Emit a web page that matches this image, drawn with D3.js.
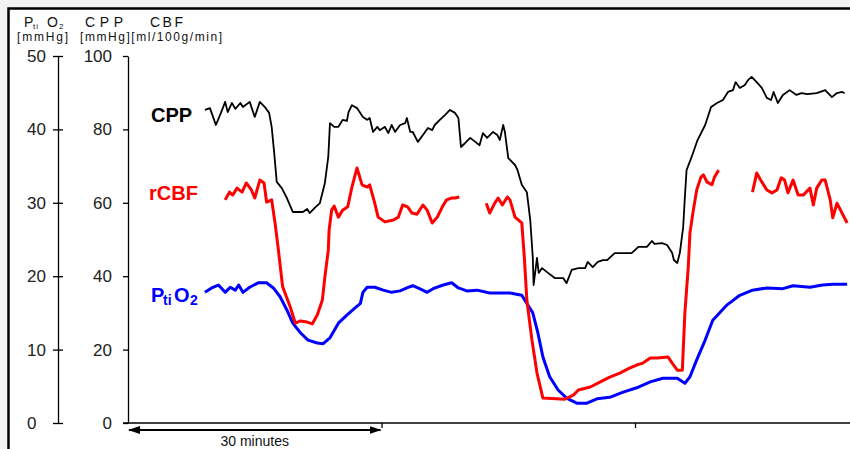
<!DOCTYPE html>
<html><head><meta charset="utf-8">
<script src="https://cdn.jsdelivr.net/npm/d3@7"></script>
<style>
body{margin:0;background:#f3f3f3;}
svg{display:block;font-family:Arial,"Liberation Sans",sans-serif;}
</style>
</head><body>
<svg id="chart" width="850" height="449"></svg>
<script>
// ---------- data (time in minutes) ----------
const cppMinutes = [9.1,9.7,10.4,11.0,11.5,11.8,12.3,12.7,13.3,13.6,14.4,15.0,15.6,16.2,16.7,17.0,17.3,17.6,18.2,18.8,19.5,20.7,21.2,21.5,22.1,22.7,23.3,23.7,23.9,24.4,24.9,25.4,25.9,26.1,26.5,27.1,27.8,28.3,28.6,29.0,29.5,29.8,30.4,30.8,31.2,31.6,32.2,32.8,33.0,33.4,33.7,34.3,34.9,35.5,36.0,36.3,36.9,37.5,38.1,38.7,39.1,39.4,39.9,40.5,41.1,41.6,42.0,42.5,43.2,43.7,44.0,44.4,44.6,45.0,45.8,46.1,46.6,47.2,47.6,47.9,48.0,48.4,48.6,49.0,49.7,50.5,51.5,51.9,52.5,53.3,54.1,54.4,55.0,55.6,56.2,56.7,57.6,59.6,60.4,61.4,62.0,62.3,63.2,63.8,64.4,64.6,65.0,65.3,65.7,65.9,66.1,66.7,67.4,68.3,69.0,69.7,70.4,71.0,71.6,71.9,72.4,73.0,73.4,73.8,74.4,75.0,75.6,76.1,76.4,76.9,77.5,78.3,79.1,79.7,80.4,81.5,82.5,83.3,83.9,84.5,84.8];
const cppValues = [85.3,85.8,81.2,84.5,87.5,84.7,87.2,85.6,87.2,86.1,87.5,83.4,87.5,86.1,84.5,80.7,73.6,65.7,64.0,61.3,57.5,57.5,58.3,57.2,58.6,59.9,65.4,72.5,81.7,80.7,80.7,82.6,82.3,84.7,86.6,85.8,83.4,82.6,83.1,79.3,80.7,79.8,80.7,79.0,81.2,79.3,81.2,81.7,83.1,79.3,79.3,76.6,78.5,80.4,79.8,81.2,82.6,83.9,85.3,84.5,83.1,75.2,76.3,77.7,76.6,75.7,79.0,77.7,79.3,78.5,77.1,81.2,79.3,72.2,70.3,68.9,64.9,62.9,55.3,45.2,37.6,45.0,40.9,42.2,40.9,39.5,39.5,38.1,41.7,42.2,42.2,43.9,42.5,43.9,44.4,44.4,46.3,46.3,48.0,48.0,49.6,48.8,49.0,48.5,46.3,44.4,43.6,46.3,53.4,61.6,68.9,72.5,77.1,81.2,86.1,87.2,88.0,90.2,90.7,92.9,91.3,92.1,93.5,94.3,92.9,91.3,88.6,88.0,90.2,87.2,89.4,90.7,89.4,89.9,89.6,89.9,90.7,88.8,89.9,90.2,89.9];

// rCBF: null marks a gap in the recording
const cbfMinutes = [11.5,12.0,12.4,12.9,13.5,14.0,14.6,15.0,15.6,16.1,16.4,17.0,17.4,17.8,18.3,19.2,19.8,20.4,21.2,21.8,22.4,23.0,23.3,23.7,23.8,24.1,24.4,24.9,25.4,26.0,26.5,27.1,27.7,28.3,28.6,29.2,29.6,30.4,31.4,32.0,32.5,33.1,33.6,34.2,34.9,35.4,36.0,36.6,37.2,37.7,38.3,38.7,39.2,
  40.8,
  42.4,42.8,43.4,43.8,44.3,44.9,45.2,45.8,46.6,46.9,47.2,47.8,48.4,49.1,51.7,52.7,53.3,54.7,55.9,57.0,58.2,59.4,60.2,60.9,61.8,62.6,63.9,64.4,65.0,65.6,65.9,66.3,66.5,66.9,67.3,67.8,68.1,68.5,69.1,69.4,69.9,
  72.0,
  73.9,74.4,75.0,75.6,76.2,76.8,77.3,77.7,78.1,78.7,79.3,79.9,80.7,81.1,81.5,82.1,82.5,83.1,83.4,83.9,84.5,85.1];
const cbfValues = [60.8,62.9,62.1,64.0,62.9,65.4,63.5,61.3,66.2,65.4,60.2,60.8,54.5,47.1,37.1,31.6,27.2,27.8,27.5,27.0,29.4,33.5,39.8,47.1,52.6,58.0,59.1,56.1,58.0,58.9,64.3,69.5,64.9,64.3,64.9,59.9,56.1,54.8,55.3,56.1,59.4,58.9,57.2,56.9,59.4,58.0,54.5,56.1,58.9,60.8,61.3,61.3,61.6,
  null,
  59.9,57.2,59.9,61.3,59.4,61.6,60.8,56.1,54.5,45.2,33.5,22.6,13.6,6.8,6.5,7.6,9.0,9.8,11.2,12.5,13.6,15.0,15.8,16.3,17.7,17.7,18.0,16.3,14.4,14.4,30.0,42.5,51.8,58.0,63.5,67.0,67.6,65.7,64.9,67.0,68.9,
  null,
  62.9,68.1,65.7,63.5,62.7,63.5,66.8,66.2,62.7,66.2,62.1,62.1,64.0,59.4,64.0,66.2,66.2,60.8,55.9,59.9,57.2,54.5];

const ptiMinutes = [9.1,9.9,10.7,11.5,12.1,12.7,13.1,13.6,14.4,15.4,16.4,17.2,18.0,18.8,19.5,20.4,21.3,22.4,23.1,23.9,24.9,25.9,26.6,27.5,27.8,28.3,29.2,30.2,31.2,32.2,33.0,33.7,34.5,35.4,36.1,37.3,38.3,39.1,40.1,41.3,42.8,44.0,45.2,46.6,47.3,47.9,48.5,49.1,49.9,50.9,51.9,53.1,54.3,55.5,57.0,58.6,60.2,61.8,63.3,65.0,65.9,66.5,67.3,68.3,69.2,70.9,72.4,73.9,75.6,77.5,78.7,80.7,82.2,83.4,85.1];
const ptiValues = [17.8,18.4,18.8,17.8,18.5,18.1,18.8,17.8,18.5,19.1,19.1,18.4,17.2,15.4,13.6,12.3,11.3,10.9,10.8,11.6,13.6,14.7,15.4,16.3,17.8,18.5,18.5,18.1,17.8,18.0,18.4,18.7,18.3,17.8,18.3,18.8,19.1,18.4,18.0,18.1,17.7,17.7,17.7,17.4,16.1,15.0,12.3,9.0,6.3,4.5,3.4,2.7,2.7,3.3,3.5,4.2,4.8,5.6,6.1,6.1,5.4,6.3,8.6,11.3,14.0,16.1,17.4,18.1,18.4,18.3,18.7,18.5,18.8,18.9,18.9];

const ptiTicks = [0,10,20,30,40,50];
const cppTicks = [0,20,40,60,80,100];
const timeTicks = [30,60];
const scaleBarMinutes = [0,30];

// ---------- scales ----------
const svg = d3.select("#chart");
const x = d3.scaleLinear().domain([0, 85.44]).range([128, 850]);
const yP = d3.scaleLinear().domain([0, 50]).range([423, 56]);
const yC = d3.scaleLinear().domain([0, 100]).range([423, 56]);

// frame
svg.append("rect").attr("x",8).attr("y",8).attr("width",842).attr("height",441).attr("fill","#fff");
svg.append("path").attr("d","M8.5,449V8.5H850").attr("fill","none").attr("stroke","#000").attr("stroke-width",2.5);

// ---------- header ----------
const h = svg.append("g").attr("fill","#111");
const ht = h.append("text").attr("y",27).attr("font-size",14);
ht.append("tspan").attr("x",24).text("P");
ht.append("tspan").attr("x",33).attr("dy",2).attr("font-size",8).attr("letter-spacing",1).text("ti");
ht.append("tspan").attr("x",47).attr("dy",-2).text("O");
ht.append("tspan").attr("x",59).attr("dy",2).attr("font-size",8).text("2");
h.append("text").attr("x",85).attr("y",27).attr("font-size",14).attr("textLength",38).attr("lengthAdjust","spacing").text("CPP");
h.append("text").attr("x",150).attr("y",27).attr("font-size",14).attr("textLength",33).attr("lengthAdjust","spacing").text("CBF");
h.append("text").attr("x",17).attr("y",41).attr("font-size",12).attr("textLength",51).attr("lengthAdjust","spacing").text("[mmHg]");
h.append("text").attr("x",80).attr("y",41).attr("font-size",12).attr("textLength",142).attr("lengthAdjust","spacing").text("[mmHg][ml/100g/min]");

// ---------- axes ----------
const gP = svg.append("g").attr("transform","translate(58,0)");
gP.call(d3.axisLeft(yP).tickValues(ptiTicks).tickSize(5).tickSizeOuter(0));
gP.call(g => g.selectAll(".tick text").attr("x",-31).attr("text-anchor","start"));
gP.append("g").call(d3.axisRight(yP).tickValues(ptiTicks).tickSize(5).tickFormat(""))
  .call(g => g.select(".domain").remove());

const gC = svg.append("g").attr("transform","translate(128,0)");
gC.call(d3.axisLeft(yC).tickValues(cppTicks).tickSize(5).tickPadding(11).tickSizeOuter(0));

[gP, gC].forEach(g => {
  g.selectAll("text").attr("font-size",17).attr("font-family","Arial,'Liberation Sans',sans-serif").attr("fill","#222");
  g.selectAll("line,path").attr("stroke","#000").attr("stroke-width",1.3);
});

const gX = svg.append("g").attr("transform","translate(0,423)");
gX.call(d3.axisBottom(x).tickValues(timeTicks).tickSize(5).tickFormat("").tickSizeOuter(0));
gX.select(".domain").remove();
gX.append("line").attr("x1",x(0)-5).attr("x2",x.range()[1]).attr("stroke","#000").attr("stroke-width",1.3);
gX.selectAll("line").attr("stroke","#000").attr("stroke-width",1.3);

// scale bar arrow
const defs = svg.append("defs");
defs.append("marker").attr("id","ah").attr("viewBox","0 0 12 10").attr("refX",11).attr("refY",5)
  .attr("markerWidth",12).attr("markerHeight",10).attr("markerUnits","userSpaceOnUse").attr("orient","auto-start-reverse")
  .append("path").attr("d","M0,1L12,5L0,9z").attr("fill","#000");
svg.append("line").attr("x1",x(scaleBarMinutes[0])+1).attr("x2",x(scaleBarMinutes[1])-1).attr("y1",430).attr("y2",430)
  .attr("stroke","#000").attr("stroke-width",2).attr("marker-start","url(#ah)").attr("marker-end","url(#ah)");
svg.append("text").attr("x",(x(scaleBarMinutes[0])+x(scaleBarMinutes[1]))/2).attr("y",446).attr("text-anchor","middle")
  .attr("font-size",14).attr("fill","#111").text("30 minutes");

// ---------- lines ----------
const mk = (ts, vs) => ts.map((t,i) => ({t, v: vs[i]}));
const lineC = d3.line().defined(d => d.v != null).x(d => x(d.t)).y(d => yC(d.v));
const lineP = d3.line().x(d => x(d.t)).y(d => yP(d.v));

svg.append("path").datum(mk(ptiMinutes, ptiValues)).attr("d", lineP)
  .attr("fill","none").attr("stroke","#0000ff").attr("stroke-width",3).attr("stroke-linejoin","round");
svg.append("path").datum(mk(cbfMinutes, cbfValues)).attr("d", lineC)
  .attr("fill","none").attr("stroke","#ff0000").attr("stroke-width",3).attr("stroke-linejoin","round");
svg.append("path").datum(mk(cppMinutes, cppValues)).attr("d", lineC)
  .attr("fill","none").attr("stroke","#000").attr("stroke-width",1.8).attr("stroke-linejoin","round");

// ---------- series labels ----------
svg.append("text").attr("x",151).attr("y",122).attr("font-size",20).attr("font-weight","bold").attr("fill","#000").text("CPP");
svg.append("text").attr("x",149).attr("y",200).attr("font-size",20).attr("font-weight","bold").attr("fill","#ff0000").text("rCBF");
const pl = svg.append("text").attr("y",302).attr("font-size",20).attr("font-weight","bold").attr("fill","#0000ff");
pl.append("tspan").attr("x",151).text("P");
pl.append("tspan").attr("x",163).attr("dy",3).attr("font-size",14).text("ti");
pl.append("tspan").attr("x",174).attr("dy",-3).text("O");
pl.append("tspan").attr("x",190).attr("dy",3).attr("font-size",14).text("2");
</script>
</body></html>
